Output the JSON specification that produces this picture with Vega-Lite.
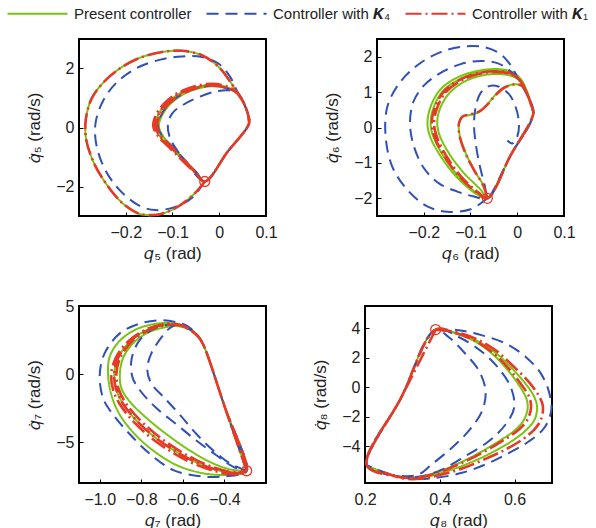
{
"$schema": "https://vega.github.io/schema/vega-lite/v6.json",
"padding": {"left": 24, "top": 6, "right": 5, "bottom": 5},
"config": {
  "font": "Liberation Sans",
  "view": {"stroke": "#000", "strokeWidth": 2},
  "axis": {"grid": false, "domain": false, "labelFontSize": 16, "labelColor": "#222", "titleFontSize": 17, "titleFontWeight": "normal", "titleColor": "#222", "tickColor": "#000", "tickSize": -4, "labelPadding": 9, "titlePadding": 6, "labelFlush": false, "labelOverlap": false, "labelBound": false},
  "axisX": {"labelPadding": 12, "titlePadding": 5},
  "axisY": {"titlePadding": 12},
  "legend": {"orient": "none", "legendX": -49, "legendY": -33, "direction": "horizontal", "title": null, "labelFontSize": 15, "labelColor": "#222", "symbolType": "M-6,0H6", "symbolSize": 100, "symbolStrokeWidth": 2, "labelOffset": 29, "columnPadding": 10, "labelLimit": 300},
  "line": {"interpolate": "catmull-rom", "clip": true}
},
"datasets": {
"p1": [
{"s":"P","x":-0.031,"y":-1.83},{"s":"P","x":-0.051,"y":-2.21},{"s":"P","x":-0.087,"y":-2.67},{"s":"P","x":-0.122,"y":-2.92},{"s":"P","x":-0.144,"y":-2.97},{"s":"P","x":-0.172,"y":-2.92},{"s":"P","x":-0.208,"y":-2.55},{"s":"P","x":-0.244,"y":-1.86},{"s":"P","x":-0.269,"y":-1.17},{"s":"P","x":-0.285,"y":-0.37},{"s":"P","x":-0.285,"y":0.32},{"s":"P","x":-0.272,"y":1.01},{"s":"P","x":-0.244,"y":1.59},{"s":"P","x":-0.208,"y":2.05},{"s":"P","x":-0.165,"y":2.39},{"s":"P","x":-0.122,"y":2.56},{"s":"P","x":-0.080,"y":2.60},{"s":"P","x":-0.037,"y":2.45},{"s":"P","x":-0.001,"y":2.05},{"s":"P","x":0.027,"y":1.47},{"s":"P","x":0.038,"y":1.18},{"s":"P","x":0.052,"y":0.84},{"s":"P","x":0.0615,"y":0.44},{"s":"P","x":0.064,"y":0.15},{"s":"P","x":0.017,"y":-0.84},{"s":"P","x":-0.031,"y":-1.83},
{"s":"P","x":-0.051,"y":-1.52},{"s":"P","x":-0.073,"y":-1.17},{"s":"P","x":-0.101,"y":-0.71},{"s":"P","x":-0.126,"y":-0.31},{"s":"P","x":-0.137,"y":0.03},{"s":"P","x":-0.132,"y":0.38},{"s":"P","x":-0.115,"y":0.78},{"s":"P","x":-0.087,"y":1.13},{"s":"P","x":-0.051,"y":1.36},{"s":"P","x":-0.016,"y":1.45},{"s":"P","x":0.013,"y":1.38},{"s":"P","x":0.038,"y":1.18},{"s":"P","x":0.052,"y":0.84},{"s":"P","x":0.0615,"y":0.44},{"s":"P","x":0.064,"y":0.15},{"s":"P","x":0.017,"y":-0.84},{"s":"P","x":-0.031,"y":-1.83},
{"s":"P","x":-0.050,"y":-1.50},{"s":"P","x":-0.071,"y":-1.15},{"s":"P","x":-0.097,"y":-0.70},{"s":"P","x":-0.120,"y":-0.30},{"s":"P","x":-0.129,"y":0.03},{"s":"P","x":-0.124,"y":0.36},{"s":"P","x":-0.108,"y":0.74},{"s":"P","x":-0.082,"y":1.08},{"s":"P","x":-0.048,"y":1.31},{"s":"P","x":-0.014,"y":1.40},{"s":"P","x":0.014,"y":1.34},{"s":"P","x":0.038,"y":1.16},{"s":"P","x":0.052,"y":0.84},{"s":"P","x":0.0615,"y":0.44},{"s":"P","x":0.064,"y":0.15},
{"s":"K4","x":-0.031,"y":-1.83},{"s":"K4","x":-0.058,"y":-2.38},{"s":"K4","x":-0.094,"y":-2.69},{"s":"K4","x":-0.137,"y":-2.80},{"s":"K4","x":-0.172,"y":-2.64},{"s":"K4","x":-0.215,"y":-2.09},{"s":"K4","x":-0.247,"y":-1.34},{"s":"K4","x":-0.264,"y":-0.48},{"s":"K4","x":-0.264,"y":0.21},{"s":"K4","x":-0.247,"y":0.95},{"s":"K4","x":-0.219,"y":1.53},{"s":"K4","x":-0.176,"y":2.02},{"s":"K4","x":-0.126,"y":2.30},{"s":"K4","x":-0.080,"y":2.41},{"s":"K4","x":-0.037,"y":2.39},{"s":"K4","x":-0.001,"y":2.16},{"s":"K4","x":0.024,"y":1.70},{"s":"K4","x":0.038,"y":1.24},{"s":"K4","x":0.052,"y":0.84},{"s":"K4","x":0.0615,"y":0.44},{"s":"K4","x":0.064,"y":0.15},{"s":"K4","x":0.017,"y":-0.84},{"s":"K4","x":-0.031,"y":-1.83},
{"s":"K4","x":-0.058,"y":-1.46},{"s":"K4","x":-0.083,"y":-0.94},{"s":"K4","x":-0.105,"y":-0.37},{"s":"K4","x":-0.110,"y":0.09},{"s":"K4","x":-0.100,"y":0.49},{"s":"K4","x":-0.076,"y":0.78},{"s":"K4","x":-0.044,"y":1.03},{"s":"K4","x":-0.008,"y":1.22},{"s":"K4","x":0.020,"y":1.26},{"s":"K4","x":0.0415,"y":1.13},{"s":"K4","x":0.054,"y":0.78},{"s":"K4","x":0.0615,"y":0.44},{"s":"K4","x":0.064,"y":0.15},{"s":"K4","x":0.017,"y":-0.84},{"s":"K4","x":-0.031,"y":-1.83},
{"s":"K4","x":-0.050,"y":-1.50},{"s":"K4","x":-0.071,"y":-1.15},{"s":"K4","x":-0.097,"y":-0.70},{"s":"K4","x":-0.122,"y":-0.30},{"s":"K4","x":-0.131,"y":0.03},{"s":"K4","x":-0.126,"y":0.37},{"s":"K4","x":-0.110,"y":0.76},{"s":"K4","x":-0.083,"y":1.10},{"s":"K4","x":-0.049,"y":1.33},{"s":"K4","x":-0.014,"y":1.42},{"s":"K4","x":0.014,"y":1.35},{"s":"K4","x":0.038,"y":1.17},{"s":"K4","x":0.052,"y":0.84},{"s":"K4","x":0.0615,"y":0.44},{"s":"K4","x":0.064,"y":0.15},
{"s":"K1","x":-0.031,"y":-1.83},{"s":"K1","x":-0.051,"y":-2.21},{"s":"K1","x":-0.087,"y":-2.67},{"s":"K1","x":-0.122,"y":-2.92},{"s":"K1","x":-0.144,"y":-2.97},{"s":"K1","x":-0.172,"y":-2.92},{"s":"K1","x":-0.208,"y":-2.55},{"s":"K1","x":-0.244,"y":-1.86},{"s":"K1","x":-0.269,"y":-1.17},{"s":"K1","x":-0.285,"y":-0.37},{"s":"K1","x":-0.285,"y":0.32},{"s":"K1","x":-0.272,"y":1.01},{"s":"K1","x":-0.244,"y":1.59},{"s":"K1","x":-0.208,"y":2.05},{"s":"K1","x":-0.165,"y":2.39},{"s":"K1","x":-0.122,"y":2.56},{"s":"K1","x":-0.080,"y":2.60},{"s":"K1","x":-0.037,"y":2.45},{"s":"K1","x":-0.001,"y":2.05},{"s":"K1","x":0.027,"y":1.47},{"s":"K1","x":0.038,"y":1.18},{"s":"K1","x":0.052,"y":0.84},{"s":"K1","x":0.0615,"y":0.44},{"s":"K1","x":0.064,"y":0.15},{"s":"K1","x":0.017,"y":-0.84},{"s":"K1","x":-0.031,"y":-1.83},
{"s":"K1","x":-0.052,"y":-1.53},{"s":"K1","x":-0.075,"y":-1.18},{"s":"K1","x":-0.104,"y":-0.72},{"s":"K1","x":-0.130,"y":-0.31},{"s":"K1","x":-0.141,"y":0.03},{"s":"K1","x":-0.136,"y":0.40},{"s":"K1","x":-0.118,"y":0.81},{"s":"K1","x":-0.089,"y":1.17},{"s":"K1","x":-0.052,"y":1.40},{"s":"K1","x":-0.016,"y":1.48},{"s":"K1","x":0.013,"y":1.41},{"s":"K1","x":0.038,"y":1.20},{"s":"K1","x":0.052,"y":0.85},{"s":"K1","x":0.0615,"y":0.44},{"s":"K1","x":0.064,"y":0.15},{"s":"K1","x":0.017,"y":-0.84},{"s":"K1","x":-0.031,"y":-1.83},
{"s":"K1","x":-0.051,"y":-1.52},{"s":"K1","x":-0.073,"y":-1.17},{"s":"K1","x":-0.101,"y":-0.71},{"s":"K1","x":-0.126,"y":-0.31},{"s":"K1","x":-0.137,"y":0.03},{"s":"K1","x":-0.132,"y":0.38},{"s":"K1","x":-0.115,"y":0.78},{"s":"K1","x":-0.087,"y":1.13},{"s":"K1","x":-0.051,"y":1.36},{"s":"K1","x":-0.016,"y":1.45},{"s":"K1","x":0.013,"y":1.38},{"s":"K1","x":0.038,"y":1.18},{"s":"K1","x":0.052,"y":0.84},{"s":"K1","x":0.0615,"y":0.44},{"s":"K1","x":0.064,"y":0.15},{"s":"K1","x":0.017,"y":-0.84},{"s":"K1","x":-0.031,"y":-1.83},
{"s":"K1","x":-0.051,"y":-1.51},{"s":"K1","x":-0.072,"y":-1.16},{"s":"K1","x":-0.099,"y":-0.70},{"s":"K1","x":-0.123,"y":-0.30},{"s":"K1","x":-0.133,"y":0.03},{"s":"K1","x":-0.128,"y":0.37},{"s":"K1","x":-0.111,"y":0.76},{"s":"K1","x":-0.084,"y":1.10},{"s":"K1","x":-0.050,"y":1.33},{"s":"K1","x":-0.015,"y":1.42},{"s":"K1","x":0.013,"y":1.36},{"s":"K1","x":0.038,"y":1.17},{"s":"K1","x":0.052,"y":0.84},{"s":"K1","x":0.0615,"y":0.44},{"s":"K1","x":0.064,"y":0.15}
],
"p2": [
{"s":"P","x":-0.064,"y":-2.0},{"s":"P","x":-0.071,"y":-1.67},{"s":"P","x":-0.0925,"y":-1.20},{"s":"P","x":-0.110,"y":-0.73},{"s":"P","x":-0.1225,"y":-0.26},{"s":"P","x":-0.1246,"y":0.09},{"s":"P","x":-0.1175,"y":0.30},{"s":"P","x":-0.0996,"y":0.36},{"s":"P","x":-0.0818,"y":0.44},{"s":"P","x":-0.0654,"y":0.63},{"s":"P","x":-0.0497,"y":0.88},{"s":"P","x":-0.0319,"y":1.10},{"s":"P","x":-0.0105,"y":1.21},{"s":"P","x":0.0073,"y":1.19},{"s":"P","x":0.0201,"y":0.96},{"s":"P","x":0.0287,"y":0.68},{"s":"P","x":0.0344,"y":0.40},{"s":"P","x":-0.0148,"y":-0.80},{"s":"P","x":-0.064,"y":-2.0},
{"s":"P","x":-0.0782,"y":-1.76},{"s":"P","x":-0.1139,"y":-1.29},{"s":"P","x":-0.146,"y":-0.73},{"s":"P","x":-0.1674,"y":-0.17},{"s":"P","x":-0.171,"y":0.21},{"s":"P","x":-0.1638,"y":0.58},{"s":"P","x":-0.146,"y":0.96},{"s":"P","x":-0.1139,"y":1.29},{"s":"P","x":-0.0711,"y":1.48},{"s":"P","x":-0.0283,"y":1.50},{"s":"P","x":0.0,"y":1.38},{"s":"P","x":0.018,"y":1.05},{"s":"P","x":0.0287,"y":0.68},{"s":"P","x":0.0344,"y":0.40},{"s":"P","x":-0.0148,"y":-0.80},{"s":"P","x":-0.064,"y":-2.0},
{"s":"P","x":-0.087,"y":-1.88},{"s":"P","x":-0.128,"y":-1.42},{"s":"P","x":-0.162,"y":-0.85},{"s":"P","x":-0.186,"y":-0.27},{"s":"P","x":-0.192,"y":0.11},{"s":"P","x":-0.186,"y":0.56},{"s":"P","x":-0.166,"y":1.05},{"s":"P","x":-0.133,"y":1.38},{"s":"P","x":-0.088,"y":1.59},{"s":"P","x":-0.043,"y":1.65},{"s":"P","x":-0.013,"y":1.58},{"s":"P","x":0.008,"y":1.36},{"s":"P","x":0.022,"y":0.98},{"s":"P","x":0.030,"y":0.64},{"s":"P","x":0.0344,"y":0.40},{"s":"P","x":-0.0148,"y":-0.80},{"s":"P","x":-0.064,"y":-2.0},
{"s":"P","x":-0.0854,"y":-1.86},{"s":"P","x":-0.1246,"y":-1.39},{"s":"P","x":-0.1567,"y":-0.83},{"s":"P","x":-0.1795,"y":-0.26},{"s":"P","x":-0.1852,"y":0.11},{"s":"P","x":-0.1795,"y":0.54},{"s":"P","x":-0.1603,"y":1.01},{"s":"P","x":-0.1282,"y":1.33},{"s":"P","x":-0.0854,"y":1.54},{"s":"P","x":-0.0426,"y":1.60},{"s":"P","x":-0.0141,"y":1.54},{"s":"P","x":0.0073,"y":1.33},{"s":"P","x":0.0215,"y":0.96},{"s":"P","x":0.0301,"y":0.63},{"s":"P","x":0.0344,"y":0.40},
{"s":"K4","x":-0.064,"y":-2.0},{"s":"K4","x":-0.0996,"y":-2.31},{"s":"K4","x":-0.1496,"y":-2.38},{"s":"K4","x":-0.1923,"y":-2.23},{"s":"K4","x":-0.2351,"y":-1.76},{"s":"K4","x":-0.2672,"y":-1.11},{"s":"K4","x":-0.2815,"y":-0.26},{"s":"K4","x":-0.278,"y":0.58},{"s":"K4","x":-0.2529,"y":1.24},{"s":"K4","x":-0.2137,"y":1.76},{"s":"K4","x":-0.1638,"y":2.13},{"s":"K4","x":-0.1139,"y":2.29},{"s":"K4","x":-0.0711,"y":2.27},{"s":"K4","x":-0.0355,"y":2.07},{"s":"K4","x":-0.0141,"y":1.76},{"s":"K4","x":0.0,"y":1.43},{"s":"K4","x":0.018,"y":1.0},{"s":"K4","x":0.0344,"y":0.40},{"s":"K4","x":-0.0148,"y":-0.80},{"s":"K4","x":-0.064,"y":-2.0},
{"s":"K4","x":-0.0925,"y":-1.95},{"s":"K4","x":-0.1282,"y":-1.81},{"s":"K4","x":-0.1674,"y":-1.58},{"s":"K4","x":-0.1995,"y":-1.15},{"s":"K4","x":-0.2209,"y":-0.54},{"s":"K4","x":-0.2294,"y":0.11},{"s":"K4","x":-0.2223,"y":0.72},{"s":"K4","x":-0.1995,"y":1.19},{"s":"K4","x":-0.1638,"y":1.54},{"s":"K4","x":-0.121,"y":1.79},{"s":"K4","x":-0.0782,"y":1.88},{"s":"K4","x":-0.0426,"y":1.82},{"s":"K4","x":-0.0176,"y":1.62},{"s":"K4","x":0.0,"y":1.38},{"s":"K4","x":0.018,"y":1.0},{"s":"K4","x":0.0344,"y":0.40},{"s":"K4","x":-0.0148,"y":-0.80},{"s":"K4","x":-0.064,"y":-2.0},
{"s":"K4","x":-0.069,"y":-1.67},{"s":"K4","x":-0.0797,"y":-1.11},{"s":"K4","x":-0.0889,"y":-0.45},{"s":"K4","x":-0.0925,"y":0.11},{"s":"K4","x":-0.0889,"y":0.58},{"s":"K4","x":-0.0782,"y":0.98},{"s":"K4","x":-0.0604,"y":1.17},{"s":"K4","x":-0.039,"y":1.15},{"s":"K4","x":-0.0176,"y":0.94},{"s":"K4","x":-0.0034,"y":0.58},{"s":"K4","x":0.0037,"y":0.11},{"s":"K4","x":0.0,"y":-0.26},{"s":"K4","x":-0.0105,"y":-0.45},{"s":"K4","x":-0.0212,"y":-0.37},
{"s":"K1","x":-0.064,"y":-2.0},{"s":"K1","x":-0.072,"y":-1.66},{"s":"K1","x":-0.093,"y":-1.19},{"s":"K1","x":-0.111,"y":-0.72},{"s":"K1","x":-0.123,"y":-0.25},{"s":"K1","x":-0.125,"y":0.09},{"s":"K1","x":-0.117,"y":0.31},{"s":"K1","x":-0.099,"y":0.37},{"s":"K1","x":-0.080,"y":0.46},{"s":"K1","x":-0.063,"y":0.66},{"s":"K1","x":-0.046,"y":0.92},{"s":"K1","x":-0.027,"y":1.13},{"s":"K1","x":-0.006,"y":1.22},{"s":"K1","x":0.010,"y":1.18},{"s":"K1","x":0.021,"y":0.96},{"s":"K1","x":0.0287,"y":0.68},{"s":"K1","x":0.0344,"y":0.40},{"s":"K1","x":-0.0148,"y":-0.80},{"s":"K1","x":-0.064,"y":-2.0},
{"s":"K1","x":-0.083,"y":-1.84},{"s":"K1","x":-0.121,"y":-1.37},{"s":"K1","x":-0.151,"y":-0.82},{"s":"K1","x":-0.172,"y":-0.26},{"s":"K1","x":-0.178,"y":0.11},{"s":"K1","x":-0.172,"y":0.53},{"s":"K1","x":-0.154,"y":0.98},{"s":"K1","x":-0.124,"y":1.30},{"s":"K1","x":-0.083,"y":1.51},{"s":"K1","x":-0.042,"y":1.57},{"s":"K1","x":-0.014,"y":1.51},{"s":"K1","x":0.007,"y":1.31},{"s":"K1","x":0.021,"y":0.95},{"s":"K1","x":0.030,"y":0.62},{"s":"K1","x":0.0344,"y":0.40},{"s":"K1","x":-0.0148,"y":-0.80},{"s":"K1","x":-0.064,"y":-2.0},
{"s":"K1","x":-0.085,"y":-1.85},{"s":"K1","x":-0.124,"y":-1.38},{"s":"K1","x":-0.155,"y":-0.83},{"s":"K1","x":-0.177,"y":-0.26},{"s":"K1","x":-0.183,"y":0.11},{"s":"K1","x":-0.177,"y":0.54},{"s":"K1","x":-0.158,"y":1.00},{"s":"K1","x":-0.127,"y":1.32},{"s":"K1","x":-0.085,"y":1.53},{"s":"K1","x":-0.042,"y":1.59},{"s":"K1","x":-0.014,"y":1.53},{"s":"K1","x":0.007,"y":1.32},{"s":"K1","x":0.021,"y":0.96},{"s":"K1","x":0.030,"y":0.63},{"s":"K1","x":0.0344,"y":0.40}
],
"p3": [
{"s":"P","x":-0.293,"y":-7.10},{"s":"P","x":-0.397,"y":-2.48},{"s":"P","x":-0.5016,"y":2.15},{"s":"P","x":-0.5257,"y":2.78},{"s":"P","x":-0.58,"y":3.45},{"s":"P","x":-0.6462,"y":3.72},{"s":"P","x":-0.7266,"y":3.70},{"s":"P","x":-0.823,"y":3.30},{"s":"P","x":-0.9036,"y":2.45},{"s":"P","x":-0.9516,"y":1.30},{"s":"P","x":-0.96,"y":0.0},{"s":"P","x":-0.9436,"y":-1.55},{"s":"P","x":-0.9036,"y":-2.99},{"s":"P","x":-0.8311,"y":-4.42},{"s":"P","x":-0.7427,"y":-5.62},{"s":"P","x":-0.6302,"y":-6.69},{"s":"P","x":-0.5016,"y":-7.29},{"s":"P","x":-0.389,"y":-7.41},{"s":"P","x":-0.32,"y":-7.32},{"s":"P","x":-0.293,"y":-7.10},
{"s":"P","x":-0.397,"y":-2.48},{"s":"P","x":-0.5016,"y":2.15},{"s":"P","x":-0.5257,"y":2.75},{"s":"P","x":-0.5739,"y":3.35},{"s":"P","x":-0.6302,"y":3.66},{"s":"P","x":-0.6945,"y":3.61},{"s":"P","x":-0.7748,"y":3.23},{"s":"P","x":-0.8552,"y":2.39},{"s":"P","x":-0.9114,"y":1.20},{"s":"P","x":-0.9307,"y":0.0},{"s":"P","x":-0.9195,"y":-1.19},{"s":"P","x":-0.8841,"y":-2.27},{"s":"P","x":-0.823,"y":-3.42},{"s":"P","x":-0.7427,"y":-4.54},{"s":"P","x":-0.6462,"y":-5.57},{"s":"P","x":-0.5498,"y":-6.38},{"s":"P","x":-0.4534,"y":-6.96},{"s":"P","x":-0.373,"y":-7.24},{"s":"P","x":-0.3168,"y":-7.24},{"s":"P","x":-0.293,"y":-7.10},
{"s":"P","x":-0.397,"y":-2.48},{"s":"P","x":-0.5016,"y":2.15},{"s":"P","x":-0.5257,"y":2.72},{"s":"P","x":-0.57,"y":3.28},{"s":"P","x":-0.625,"y":3.52},{"s":"P","x":-0.6623,"y":3.50},{"s":"P","x":-0.7588,"y":3.11},{"s":"P","x":-0.8391,"y":2.27},{"s":"P","x":-0.8874,"y":1.20},{"s":"P","x":-0.9034,"y":0.0},{"s":"P","x":-0.8954,"y":-1.07},{"s":"P","x":-0.8552,"y":-2.03},{"s":"P","x":-0.7748,"y":-3.23},{"s":"P","x":-0.6784,"y":-4.42},{"s":"P","x":-0.5659,"y":-5.62},{"s":"P","x":-0.4534,"y":-6.57},{"s":"P","x":-0.357,"y":-7.05},{"s":"P","x":-0.293,"y":-7.10},
{"s":"K4","x":-0.293,"y":-7.10},{"s":"K4","x":-0.397,"y":-2.48},{"s":"K4","x":-0.5016,"y":2.15},{"s":"K4","x":-0.53,"y":2.85},{"s":"K4","x":-0.58,"y":3.55},{"s":"K4","x":-0.6302,"y":3.80},{"s":"K4","x":-0.7106,"y":3.95},{"s":"K4","x":-0.8069,"y":3.71},{"s":"K4","x":-0.9036,"y":2.99},{"s":"K4","x":-0.9757,"y":1.56},{"s":"K4","x":-1.0,"y":0.0},{"s":"K4","x":-0.9837,"y":-1.79},{"s":"K4","x":-0.9355,"y":-2.99},{"s":"K4","x":-0.8552,"y":-4.42},{"s":"K4","x":-0.7588,"y":-5.86},{"s":"K4","x":-0.6462,"y":-7.05},{"s":"K4","x":-0.5016,"y":-7.53},{"s":"K4","x":-0.389,"y":-7.50},{"s":"K4","x":-0.32,"y":-7.35},{"s":"K4","x":-0.293,"y":-7.10},
{"s":"K4","x":-0.397,"y":-2.48},{"s":"K4","x":-0.5016,"y":2.15},{"s":"K4","x":-0.5257,"y":2.75},{"s":"K4","x":-0.5739,"y":3.35},{"s":"K4","x":-0.6302,"y":3.62},{"s":"K4","x":-0.7266,"y":3.42},{"s":"K4","x":-0.8069,"y":2.51},{"s":"K4","x":-0.8472,"y":1.08},{"s":"K4","x":-0.8424,"y":-0.24},{"s":"K4","x":-0.8069,"y":-1.19},{"s":"K4","x":-0.7266,"y":-2.51},{"s":"K4","x":-0.6302,"y":-3.70},{"s":"K4","x":-0.5337,"y":-4.90},{"s":"K4","x":-0.4373,"y":-5.98},{"s":"K4","x":-0.357,"y":-6.81},{"s":"K4","x":-0.293,"y":-7.10},
{"s":"K4","x":-0.397,"y":-2.48},{"s":"K4","x":-0.5016,"y":2.15},{"s":"K4","x":-0.5257,"y":2.75},{"s":"K4","x":-0.5739,"y":3.35},{"s":"K4","x":-0.63,"y":3.62},{"s":"K4","x":-0.665,"y":3.35},{"s":"K4","x":-0.6945,"y":2.87},{"s":"K4","x":-0.7507,"y":1.56},{"s":"K4","x":-0.7716,"y":0.36},{"s":"K4","x":-0.7507,"y":-0.72},{"s":"K4","x":-0.6864,"y":-1.79},{"s":"K4","x":-0.6141,"y":-2.99},{"s":"K4","x":-0.5337,"y":-4.42},{"s":"K4","x":-0.4534,"y":-5.62},{"s":"K4","x":-0.373,"y":-6.57},{"s":"K4","x":-0.293,"y":-7.10},
{"s":"K1","x":-0.293,"y":-7.10},{"s":"K1","x":-0.397,"y":-2.48},{"s":"K1","x":-0.5016,"y":2.15},{"s":"K1","x":-0.526,"y":2.75},{"s":"K1","x":-0.574,"y":3.37},{"s":"K1","x":-0.632,"y":3.68},{"s":"K1","x":-0.697,"y":3.64},{"s":"K1","x":-0.779,"y":3.27},{"s":"K1","x":-0.862,"y":2.42},{"s":"K1","x":-0.922,"y":1.22},{"s":"K1","x":-0.945,"y":0.0},{"s":"K1","x":-0.934,"y":-1.25},{"s":"K1","x":-0.897,"y":-2.36},{"s":"K1","x":-0.834,"y":-3.55},{"s":"K1","x":-0.752,"y":-4.70},{"s":"K1","x":-0.652,"y":-5.74},{"s":"K1","x":-0.552,"y":-6.55},{"s":"K1","x":-0.452,"y":-7.10},{"s":"K1","x":-0.372,"y":-7.34},{"s":"K1","x":-0.316,"y":-7.30},{"s":"K1","x":-0.293,"y":-7.10},
{"s":"K1","x":-0.397,"y":-2.48},{"s":"K1","x":-0.5016,"y":2.15},{"s":"K1","x":-0.5257,"y":2.75},{"s":"K1","x":-0.5739,"y":3.35},{"s":"K1","x":-0.6302,"y":3.66},{"s":"K1","x":-0.6945,"y":3.61},{"s":"K1","x":-0.7748,"y":3.23},{"s":"K1","x":-0.8552,"y":2.39},{"s":"K1","x":-0.9114,"y":1.20},{"s":"K1","x":-0.9307,"y":0.0},{"s":"K1","x":-0.9195,"y":-1.19},{"s":"K1","x":-0.8841,"y":-2.27},{"s":"K1","x":-0.823,"y":-3.42},{"s":"K1","x":-0.7427,"y":-4.54},{"s":"K1","x":-0.6462,"y":-5.57},{"s":"K1","x":-0.5498,"y":-6.38},{"s":"K1","x":-0.4534,"y":-6.96},{"s":"K1","x":-0.373,"y":-7.24},{"s":"K1","x":-0.3168,"y":-7.24},{"s":"K1","x":-0.293,"y":-7.10},
{"s":"K1","x":-0.397,"y":-2.48},{"s":"K1","x":-0.5016,"y":2.15},{"s":"K1","x":-0.5257,"y":2.73},{"s":"K1","x":-0.5739,"y":3.32},{"s":"K1","x":-0.63,"y":3.62},{"s":"K1","x":-0.692,"y":3.57},{"s":"K1","x":-0.770,"y":3.19},{"s":"K1","x":-0.848,"y":2.35},{"s":"K1","x":-0.902,"y":1.18},{"s":"K1","x":-0.920,"y":0.0},{"s":"K1","x":-0.908,"y":-1.15},{"s":"K1","x":-0.872,"y":-2.20},{"s":"K1","x":-0.810,"y":-3.32},{"s":"K1","x":-0.730,"y":-4.42},{"s":"K1","x":-0.635,"y":-5.45},{"s":"K1","x":-0.540,"y":-6.28},{"s":"K1","x":-0.447,"y":-6.88},{"s":"K1","x":-0.370,"y":-7.18},{"s":"K1","x":-0.316,"y":-7.20},{"s":"K1","x":-0.293,"y":-7.10}
],
"p4": [
{"s":"P","x":0.389,"y":3.9},{"s":"P","x":0.4414,"y":3.70},{"s":"P","x":0.4954,"y":3.20},{"s":"P","x":0.547,"y":2.37},{"s":"P","x":0.590,"y":1.35},{"s":"P","x":0.626,"y":0.33},{"s":"P","x":0.651,"y":-0.58},{"s":"P","x":0.660,"y":-1.32},{"s":"P","x":0.654,"y":-2.17},{"s":"P","x":0.633,"y":-2.86},{"s":"P","x":0.596,"y":-3.60},{"s":"P","x":0.547,"y":-4.33},{"s":"P","x":0.490,"y":-5.03},{"s":"P","x":0.428,"y":-5.63},{"s":"P","x":0.370,"y":-6.05},{"s":"P","x":0.320,"y":-6.18},{"s":"P","x":0.268,"y":-5.95},{"s":"P","x":0.205,"y":-5.31},{"s":"P","x":0.297,"y":-0.70},{"s":"P","x":0.389,"y":3.9},
{"s":"P","x":0.4414,"y":3.65},{"s":"P","x":0.4954,"y":3.08},{"s":"P","x":0.543,"y":2.20},{"s":"P","x":0.581,"y":1.18},{"s":"P","x":0.611,"y":0.16},{"s":"P","x":0.631,"y":-0.74},{"s":"P","x":0.635,"y":-1.40},{"s":"P","x":0.626,"y":-2.17},{"s":"P","x":0.604,"y":-2.86},{"s":"P","x":0.561,"y":-3.62},{"s":"P","x":0.508,"y":-4.42},{"s":"P","x":0.446,"y":-5.22},{"s":"P","x":0.384,"y":-5.84},{"s":"P","x":0.331,"y":-6.12},{"s":"P","x":0.279,"y":-6.02},{"s":"P","x":0.205,"y":-5.31},
{"s":"K4","x":0.389,"y":3.9},{"s":"K4","x":0.4503,"y":3.86},{"s":"K4","x":0.5134,"y":3.51},{"s":"K4","x":0.5765,"y":2.95},{"s":"K4","x":0.6305,"y":2.03},{"s":"K4","x":0.6709,"y":0.90},{"s":"K4","x":0.6935,"y":-0.47},{"s":"K4","x":0.6979,"y":-1.60},{"s":"K4","x":0.68,"y":-2.74},{"s":"K4","x":0.6396,"y":-3.65},{"s":"K4","x":0.5853,"y":-4.45},{"s":"K4","x":0.5224,"y":-5.24},{"s":"K4","x":0.4594,"y":-5.81},{"s":"K4","x":0.3874,"y":-6.15},{"s":"K4","x":0.3243,"y":-6.20},{"s":"K4","x":0.2524,"y":-5.81},{"s":"K4","x":0.205,"y":-5.31},{"s":"K4","x":0.297,"y":-0.70},{"s":"K4","x":0.389,"y":3.9},
{"s":"K4","x":0.4233,"y":3.40},{"s":"K4","x":0.4684,"y":2.26},{"s":"K4","x":0.5043,"y":1.13},{"s":"K4","x":0.5224,"y":-0.24},{"s":"K4","x":0.5134,"y":-1.60},{"s":"K4","x":0.4773,"y":-2.97},{"s":"K4","x":0.4323,"y":-4.11},{"s":"K4","x":0.3783,"y":-5.24},{"s":"K4","x":0.3423,"y":-5.93},{"s":"K4","x":0.29,"y":-6.0},{"s":"K4","x":0.205,"y":-5.31},{"s":"K4","x":0.297,"y":-0.70},{"s":"K4","x":0.389,"y":3.9},
{"s":"K4","x":0.4503,"y":3.40},{"s":"K4","x":0.5134,"y":2.38},{"s":"K4","x":0.5583,"y":1.24},{"s":"K4","x":0.5899,"y":-0.01},{"s":"K4","x":0.599,"y":-1.38},{"s":"K4","x":0.5765,"y":-2.51},{"s":"K4","x":0.5316,"y":-3.65},{"s":"K4","x":0.4684,"y":-4.68},{"s":"K4","x":0.4053,"y":-5.59},{"s":"K4","x":0.3513,"y":-6.04},{"s":"K4","x":0.29,"y":-6.05},{"s":"K4","x":0.205,"y":-5.31},
{"s":"K1","x":0.389,"y":3.9},{"s":"K1","x":0.4414,"y":3.74},{"s":"K1","x":0.4954,"y":3.29},{"s":"K1","x":0.5494,"y":2.49},{"s":"K1","x":0.5944,"y":1.47},{"s":"K1","x":0.635,"y":0.44},{"s":"K1","x":0.662,"y":-0.47},{"s":"K1","x":0.6754,"y":-1.26},{"s":"K1","x":0.6709,"y":-2.17},{"s":"K1","x":0.6532,"y":-2.86},{"s":"K1","x":0.6214,"y":-3.54},{"s":"K1","x":0.5765,"y":-4.22},{"s":"K1","x":0.5224,"y":-4.86},{"s":"K1","x":0.4594,"y":-5.52},{"s":"K1","x":0.4053,"y":-5.93},{"s":"K1","x":0.3513,"y":-6.20},{"s":"K1","x":0.3064,"y":-6.20},{"s":"K1","x":0.2524,"y":-5.81},{"s":"K1","x":0.205,"y":-5.31},{"s":"K1","x":0.297,"y":-0.70},{"s":"K1","x":0.389,"y":3.9},
{"s":"K1","x":0.4414,"y":3.67},{"s":"K1","x":0.4954,"y":3.13},{"s":"K1","x":0.5449,"y":2.26},{"s":"K1","x":0.5853,"y":1.24},{"s":"K1","x":0.6169,"y":0.22},{"s":"K1","x":0.6396,"y":-0.70},{"s":"K1","x":0.6439,"y":-1.38},{"s":"K1","x":0.635,"y":-2.17},{"s":"K1","x":0.6123,"y":-2.86},{"s":"K1","x":0.5674,"y":-3.65},{"s":"K1","x":0.5134,"y":-4.45},{"s":"K1","x":0.4503,"y":-5.24},{"s":"K1","x":0.3874,"y":-5.86},{"s":"K1","x":0.3334,"y":-6.15},{"s":"K1","x":0.2794,"y":-6.04},{"s":"K1","x":0.205,"y":-5.31},{"s":"K1","x":0.297,"y":-0.70},{"s":"K1","x":0.389,"y":3.9}
],
"c1": [{"x":-0.031,"y":-1.83}],
"c2": [{"x":-0.064,"y":-2.0}],
"c3": [{"x":-0.293,"y":-7.10}],
"c4": [{"x":0.389,"y":3.9}]
},
"spacing": 35,
"vconcat": [
{"hconcat": [
{"width": 187, "height": 177,
 "encoding": {
  "x": {"field": "x", "type": "quantitative", "scale": {"domain": [-0.3, 0.1], "nice": false, "zero": false}, "axis": {"values": [-0.2, -0.1, 0, 0.1], "labelExpr": "datum.value == 0 ? '0' : format(datum.value, '.1f')", "title": "𝑞₅ (rad)"}},
  "y": {"field": "y", "type": "quantitative", "scale": {"domain": [-3, 3], "nice": false, "zero": false}, "axis": {"values": [-2, 0, 2], "format": "d", "title": "𝑞̇₅ (rad/s)"}}
 },
 "layer": [
  {"data": {"name": "p1"}, "transform": [{"filter": "datum.s == 'P'"}], "mark": {"type": "line", "strokeWidth": 2}, "encoding": {"color": {"field": "s", "type": "nominal", "scale": {"domain": ["P", "K4", "K1"], "range": ["#76c510", "#3050b4", "#e63a26"]}, "legend": {"labelExpr": "datum.value == 'P' ? 'Present controller' : datum.value == 'K4' ? 'Controller with 𝑲₄' : 'Controller with 𝑲₁'"}}, "strokeDash": {"field": "s", "type": "nominal", "scale": {"domain": ["P", "K4", "K1"], "range": [[1, 0], [12, 7], [16, 4, 2, 4]]}}, "order": {"value": null}}},
  {"data": {"name": "p1"}, "transform": [{"filter": "datum.s == 'K4'"}], "mark": {"type": "line", "strokeWidth": 2}, "encoding": {"color": {"field": "s", "type": "nominal"}, "strokeDash": {"field": "s", "type": "nominal"}, "order": {"value": null}}},
  {"data": {"name": "p1"}, "transform": [{"filter": "datum.s == 'K1'"}], "mark": {"type": "line", "strokeWidth": 2.6}, "encoding": {"color": {"field": "s", "type": "nominal"}, "strokeDash": {"field": "s", "type": "nominal"}, "order": {"value": null}}},
  {"data": {"name": "c1"}, "mark": {"type": "point", "size": 100, "stroke": "#e63a26", "strokeWidth": 1.3, "filled": false, "opacity": 1}}
 ]},
{"width": 187, "height": 177,
 "encoding": {
  "x": {"field": "x", "type": "quantitative", "scale": {"domain": [-0.3, 0.1], "nice": false, "zero": false}, "axis": {"values": [-0.2, -0.1, 0, 0.1], "labelExpr": "datum.value == 0 ? '0' : format(datum.value, '.1f')", "title": "𝑞₆ (rad)"}},
  "y": {"field": "y", "type": "quantitative", "scale": {"domain": [-2.5, 2.5], "nice": false, "zero": false}, "axis": {"values": [-2, -1, 0, 1, 2], "format": "d", "title": "𝑞̇₆ (rad/s)"}}
 },
 "layer": [
  {"data": {"name": "p2"}, "transform": [{"filter": "datum.s == 'P'"}], "mark": {"type": "line", "strokeWidth": 2}, "encoding": {"color": {"field": "s", "type": "nominal"}, "strokeDash": {"field": "s", "type": "nominal"}, "order": {"value": null}}},
  {"data": {"name": "p2"}, "transform": [{"filter": "datum.s == 'K4'"}], "mark": {"type": "line", "strokeWidth": 2}, "encoding": {"color": {"field": "s", "type": "nominal"}, "strokeDash": {"field": "s", "type": "nominal"}, "order": {"value": null}}},
  {"data": {"name": "p2"}, "transform": [{"filter": "datum.s == 'K1'"}], "mark": {"type": "line", "strokeWidth": 2.6}, "encoding": {"color": {"field": "s", "type": "nominal"}, "strokeDash": {"field": "s", "type": "nominal"}, "order": {"value": null}}},
  {"data": {"name": "c2"}, "mark": {"type": "point", "size": 100, "stroke": "#e63a26", "strokeWidth": 1.3, "filled": false, "opacity": 1}}
 ]}
], "spacing": 43},
{"hconcat": [
{"width": 187, "height": 177,
 "encoding": {
  "x": {"field": "x", "type": "quantitative", "scale": {"domain": [-1.1, -0.2], "nice": false, "zero": false}, "axis": {"values": [-1, -0.8, -0.6, -0.4], "format": ".1f", "title": "𝑞₇ (rad)"}},
  "y": {"field": "y", "type": "quantitative", "scale": {"domain": [-8, 5], "nice": false, "zero": false}, "axis": {"values": [-5, 0, 5], "format": "d", "title": "𝑞̇₇ (rad/s)"}}
 },
 "layer": [
  {"data": {"name": "p3"}, "transform": [{"filter": "datum.s == 'P'"}], "mark": {"type": "line", "strokeWidth": 2}, "encoding": {"color": {"field": "s", "type": "nominal"}, "strokeDash": {"field": "s", "type": "nominal"}, "order": {"value": null}}},
  {"data": {"name": "p3"}, "transform": [{"filter": "datum.s == 'K4'"}], "mark": {"type": "line", "strokeWidth": 2}, "encoding": {"color": {"field": "s", "type": "nominal"}, "strokeDash": {"field": "s", "type": "nominal"}, "order": {"value": null}}},
  {"data": {"name": "p3"}, "transform": [{"filter": "datum.s == 'K1'"}], "mark": {"type": "line", "strokeWidth": 2.6}, "encoding": {"color": {"field": "s", "type": "nominal"}, "strokeDash": {"field": "s", "type": "nominal"}, "order": {"value": null}}},
  {"data": {"name": "c3"}, "mark": {"type": "point", "size": 100, "stroke": "#e63a26", "strokeWidth": 1.3, "filled": false, "opacity": 1}}
 ]},
{"width": 187, "height": 177,
 "encoding": {
  "x": {"field": "x", "type": "quantitative", "scale": {"domain": [0.2, 0.7], "nice": false, "zero": false}, "axis": {"values": [0.2, 0.4, 0.6], "format": ".1f", "title": "𝑞₈ (rad)"}},
  "y": {"field": "y", "type": "quantitative", "scale": {"domain": [-6.5, 5.5], "nice": false, "zero": false}, "axis": {"values": [-4, -2, 0, 2, 4], "format": "d", "title": "𝑞̇₈ (rad/s)"}}
 },
 "layer": [
  {"data": {"name": "p4"}, "transform": [{"filter": "datum.s == 'P'"}], "mark": {"type": "line", "strokeWidth": 2}, "encoding": {"color": {"field": "s", "type": "nominal"}, "strokeDash": {"field": "s", "type": "nominal"}, "order": {"value": null}}},
  {"data": {"name": "p4"}, "transform": [{"filter": "datum.s == 'K4'"}], "mark": {"type": "line", "strokeWidth": 2}, "encoding": {"color": {"field": "s", "type": "nominal"}, "strokeDash": {"field": "s", "type": "nominal"}, "order": {"value": null}}},
  {"data": {"name": "p4"}, "transform": [{"filter": "datum.s == 'K1'"}], "mark": {"type": "line", "strokeWidth": 2.6}, "encoding": {"color": {"field": "s", "type": "nominal"}, "strokeDash": {"field": "s", "type": "nominal"}, "order": {"value": null}}},
  {"data": {"name": "c4"}, "mark": {"type": "point", "size": 100, "stroke": "#e63a26", "strokeWidth": 1.3, "filled": false, "opacity": 1}}
 ]}
], "spacing": 43}
],
"resolve": {"scale": {"x": "independent", "y": "independent"}}
}
